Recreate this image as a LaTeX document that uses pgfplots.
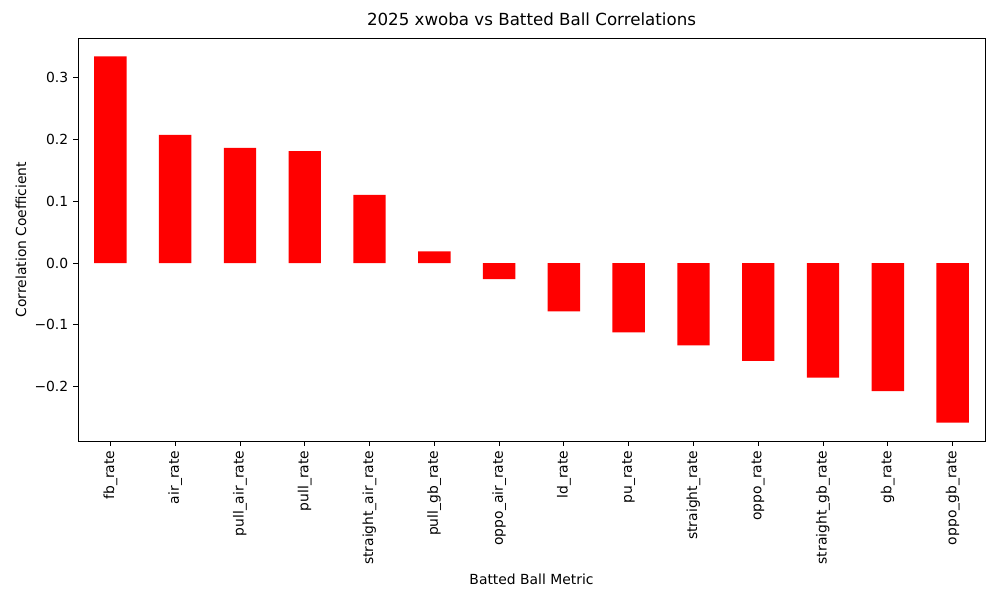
\documentclass[border=0pt]{standalone}
\usepackage{fontspec}
\setmainfont{DejaVu Sans}
\usepackage{pgfplots}
\pgfplotsset{compat=1.18}
\begin{document}
\fontsize{10}{12}\selectfont
\begin{tikzpicture}
\path[use as bounding box] (0,0) rectangle (720pt,432pt);
\begin{axis}[
  at={(56.16pt,114.48pt)}, anchor=south west,
  scale only axis, width=653.04pt, height=290.16pt,
  xmin=-0.5, xmax=13.5, ymin=-0.2876, ymax=0.3636,
  ybar, bar width=0.5,
  xtick={0,...,13},
  xticklabels={fb\_rate,air\_rate,pull\_air\_rate,pull\_rate,straight\_air\_rate,pull\_gb\_rate,oppo\_air\_rate,ld\_rate,pu\_rate,straight\_rate,oppo\_rate,straight\_gb\_rate,gb\_rate,oppo\_gb\_rate},
  xticklabel style={rotate=90, anchor=east, font=\fontsize{10}{12}\selectfont},
  ytick={-0.2,-0.1,0,0.1,0.2,0.3},
  yticklabels={−0.2,−0.1,0.0,0.1,0.2,0.3},
  yticklabel style={font=\fontsize{10}{12}\selectfont},
  tick align=outside, major tick length=3.5pt,
  tick style={black, line width=0.6pt},
  xtick pos=bottom, ytick pos=left,
  axis line style={line width=0.6pt},
  title={2025 xwoba vs Batted Ball Correlations},
  title style={font=\fontsize{12}{14}\selectfont, yshift=-1pt},
  xlabel={Batted Ball Metric},
  ylabel={Correlation Coefficient},
  label style={font=\fontsize{10}{12}\selectfont},
  ylabel style={yshift=-1pt},
]
\addplot[fill={rgb,255:red,255;green,0;blue,0}, draw=none] coordinates {
(0,0.334) (1,0.207) (2,0.186) (3,0.181) (4,0.110) (5,0.019) (6,-0.026)
(7,-0.078) (8,-0.112) (9,-0.133) (10,-0.158) (11,-0.185) (12,-0.207) (13,-0.258)
};
\end{axis}
\end{tikzpicture}
\end{document}
